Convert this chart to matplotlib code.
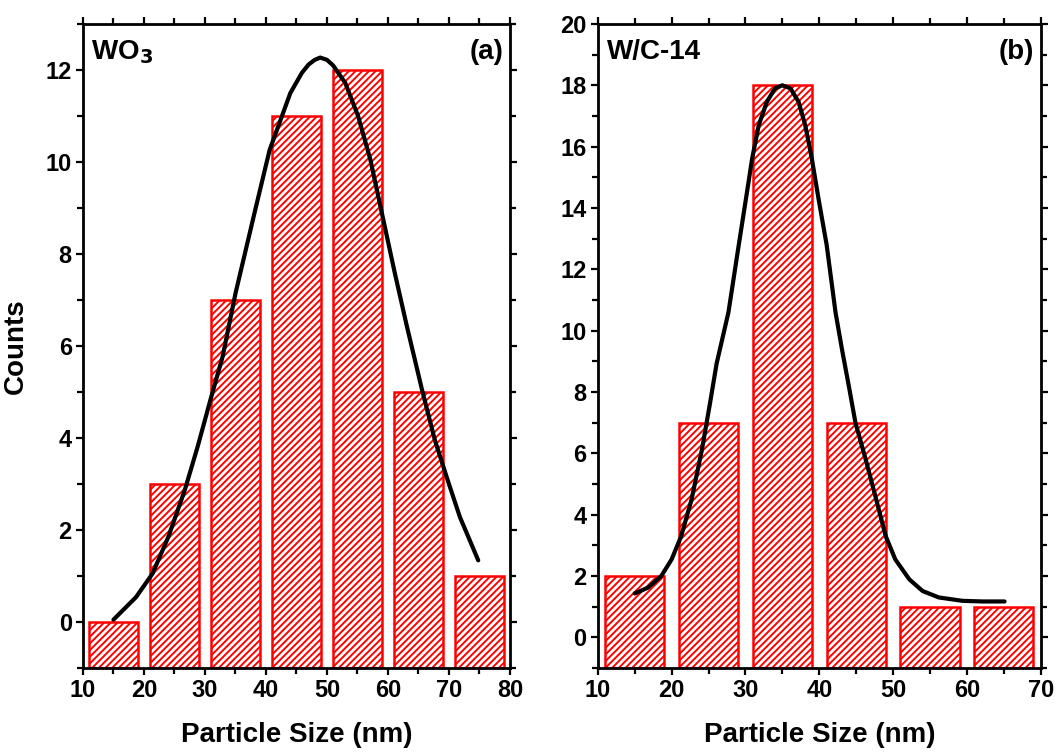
import matplotlib.pyplot as plt
import numpy as np
from matplotlib.ticker import MultipleLocator

# bar histograms (bin centers in nm, counts)
wo3_sizes = [15, 25, 35, 45, 55, 65, 75]
wo3_counts = [0, 3, 7, 11, 12, 5, 1]
wc_sizes = [15, 25, 35, 45, 55, 65]
wc_counts = [2, 7, 18, 7, 1, 1]

# fitted distribution curves
wo3_fit_x = [15.0, 18.7, 21.4, 24.0, 26.7, 28.8, 30.9, 32.9, 35.0, 38.1, 40.6, 44.0,
             45.9, 47.0, 48.0, 48.9, 50.0, 51.0, 53.0, 55.1, 57.1, 59.1, 61.1, 63.1,
             65.6, 67.7, 69.8, 71.8, 73.4, 74.8]
wo3_fit_y = [0.05, 0.54, 1.05, 1.85, 2.87, 3.81, 4.83, 5.77, 7.14, 8.88, 10.26, 11.5,
             11.94, 12.12, 12.22, 12.27, 12.22, 12.1, 11.72, 11.0, 10.06, 8.83, 7.6, 6.43,
             5.04, 3.95, 3.08, 2.28, 1.78, 1.34]
wc_fit_x = [15.0, 16.8, 18.6, 20.0, 21.3, 22.7, 24.1, 25.2, 26.1, 27.7, 29.1, 30.2,
            30.9, 31.8, 32.9, 34.0, 35.0, 36.1, 37.2, 38.1, 39.0, 39.9, 41.0, 42.2,
            43.1, 44.0, 44.9, 46.3, 47.6, 49.0, 50.3, 52.2, 54.0, 56.2, 59.4, 62.1, 65.1]
wc_fit_y = [1.43, 1.62, 2.0, 2.54, 3.3, 4.49, 6.11, 7.63, 8.93, 10.6, 12.8, 14.5,
            15.6, 16.7, 17.46, 17.9, 18.0, 17.9, 17.46, 16.7, 15.6, 14.3, 12.8, 10.6,
            9.36, 8.2, 7.0, 5.79, 4.6, 3.3, 2.54, 1.89, 1.51, 1.3, 1.19, 1.17, 1.17]

plt.rcParams['font.family'] = ['Liberation Sans', 'DejaVu Sans']
plt.rcParams['font.weight'] = 'bold'
plt.rcParams['hatch.linewidth'] = 1.4
plt.rcParams['hatch.color'] = 'red'

fig = plt.figure(figsize=(10.58, 7.52), dpi=100)
ax1 = fig.add_axes([0.0784, 0.1117, 0.4036, 0.8564])
ax2 = fig.add_axes([0.565, 0.1117, 0.4187, 0.8564])


def draw_panel(ax, sizes, counts, fx, fy, xlim, ylim, name, tag):
    ymin = ylim[0]
    ax.bar(sizes, np.array(counts) - ymin, bottom=ymin, width=8,
           facecolor='white', edgecolor='red', linewidth=1.8, hatch='/////', zorder=2)
    ax.plot(fx, fy, color='black', lw=3, solid_joinstyle='round',
            solid_capstyle='round', zorder=3)
    ax.set_xlim(*xlim)
    ax.set_ylim(*ylim)
    ax.xaxis.set_major_locator(MultipleLocator(10))
    ax.xaxis.set_minor_locator(MultipleLocator(5))
    ax.yaxis.set_major_locator(MultipleLocator(2))
    ax.yaxis.set_minor_locator(MultipleLocator(1))
    ax.tick_params(which='both', labelsize=17, width=1.6, top=True, right=True,
                   direction='out')
    ax.tick_params(which='major', length=5, pad=3)
    ax.tick_params(which='minor', length=4)
    for lbl in ax.get_xticklabels() + ax.get_yticklabels():
        lbl.set_fontweight('bold')
    for s in ax.spines.values():
        s.set_linewidth(2)
    ax.set_xlabel('Particle Size (nm)', fontsize=20, fontweight='bold', labelpad=14)
    ax.text(0.02, 0.945, name, transform=ax.transAxes, fontsize=20,
            fontweight='bold', ha='left', va='baseline')
    ax.text(0.985, 0.945, tag, transform=ax.transAxes, fontsize=20,
            fontweight='bold', ha='right', va='baseline')


draw_panel(ax1, wo3_sizes, wo3_counts, wo3_fit_x, wo3_fit_y, (10, 80), (-1, 13),
           'WO$_\\mathbf{3}$', '(a)')
draw_panel(ax2, wc_sizes, wc_counts, wc_fit_x, wc_fit_y, (10, 70), (-1, 20),
           'W/C-14', '(b)')
ax1.set_ylabel('Counts', fontsize=20, fontweight='bold', labelpad=12)

fig.savefig('out.png', dpi=100)
